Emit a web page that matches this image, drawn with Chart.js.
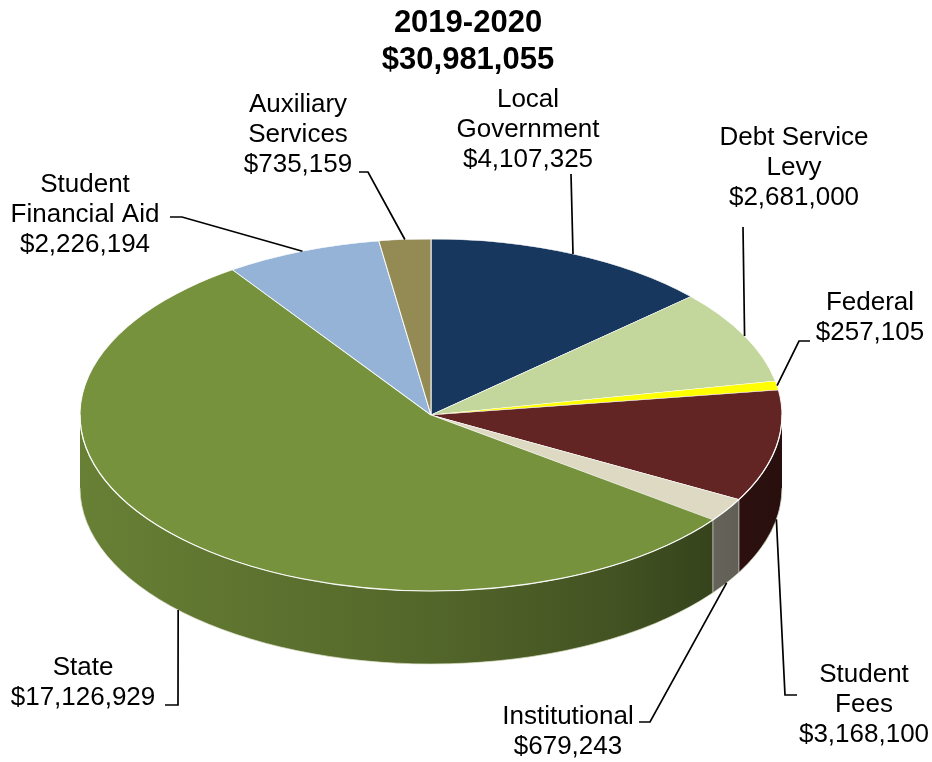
<!DOCTYPE html>
<html>
<head>
<meta charset="utf-8">
<title>Revenue 2019-2020</title>
<script src="https://cdn.jsdelivr.net/npm/chart.js@4.4.1/dist/chart.umd.min.js"></script>
<style>
  body { margin: 0; background: #ffffff; }
  #revenuePie { display: block; }
</style>
</head>
<body>
<canvas id="revenuePie" width="932" height="762"></canvas>
<script>
const yearLabel = '2019-2020'
const categories = ['Local Government', 'Debt Service Levy', 'Federal', 'Student Fees', 'Institutional', 'State', 'Student Financial Aid', 'Auxiliary Services']
const amounts = [4107325, 2681000, 257105, 3168100, 679243, 17126929, 2226194, 735159]
const labelLines = [['Local', 'Government'], ['Debt Service', 'Levy'], ['Federal'], ['Student', 'Fees'], ['Institutional'], ['State'], ['Student', 'Financial Aid'], ['Auxiliary', 'Services']]
const sliceColors = ['#17375E', '#C3D69B', '#FFFF00', '#632523', '#DDD9C3', '#76923C', '#95B3D7', '#948A54']

const money = v => '$' + v.toLocaleString('en-US')
const total = amounts.reduce((a, b) => a + b, 0)

// ellipse the flat pie gets squashed into, plus the height of the rim
const CX = 431, CY = 415, RX = 351, RY = 176, DEPTH = 73
const FONT = '"Liberation Sans", Arial, sans-serif'

// where each callout sits; leader lines run from these points to the slice
const labelSpots = [
  {x: 528, y: 107, from: [[571, 174]], edge: 'top'},
  {x: 794, y: 145, from: [[743, 227]], edge: 'top'},
  {x: 870, y: 310, from: [[810, 341], [799, 341]], edge: 'top'},
  {x: 864, y: 682, from: [[797, 695], [785, 695]], edge: 'bottom'},
  {x: 568, y: 724, from: [[639, 722], [650, 722]], edge: 'bottom'},
  {x: 83, y: 675, from: [[165, 705], [178, 705]], edge: 'bottom'},
  {x: 85, y: 192, from: [[170, 217], [182, 217]], edge: 'top'},
  {x: 298, y: 112, from: [[359, 172], [368, 172]], edge: 'top'}
]

const shade = (hex, f) => {
  const n = parseInt(hex.slice(1), 16)
  const r = Math.round(((n >> 16) & 255) * f)
  const g = Math.round(((n >> 8) & 255) * f)
  const b = Math.round((n & 255) * f)
  return `rgb(${r},${g},${b})`
}

// lighting on the rim: brighter on the left, dark towards the right
const sideStops = [[0, 0.88], [0.5, 0.7], [0.77, 0.56], [0.9, 0.46], [1, 0.4]]

const drawSide = (ctx, arc, color) => {
  const s = Math.max(arc.startAngle, 0)
  const e = Math.min(arc.endAngle, Math.PI)
  if (e <= s) return
  const grad = ctx.createLinearGradient(CX - RX, 0, CX + RX, 0)
  sideStops.forEach(([p, f]) => grad.addColorStop(p, shade(color, f)))
  ctx.beginPath()
  ctx.ellipse(CX, CY, RX, RY, 0, s, e, false)
  ctx.ellipse(CX, CY + DEPTH, RX, RY, 0, e, s, true)
  ctx.closePath()
  ctx.fillStyle = grad
  ctx.fill()
  // seam between neighbouring slices on the rim
  if (s === arc.startAngle && s > 0) {
    const x = CX + RX * Math.cos(s), y = CY + RY * Math.sin(s)
    ctx.beginPath()
    ctx.moveTo(x, y)
    ctx.lineTo(x, y + DEPTH)
    ctx.strokeStyle = 'rgba(255,255,255,0.55)'
    ctx.lineWidth = 1
    ctx.stroke()
  }
}

const pie3d = {
  id: 'pie3d',
  beforeDatasetsDraw(chart) {
    const ctx = chart.ctx
    const arcs = chart.getDatasetMeta(0).data
    const a0 = arcs[0]
    ctx.save()
    arcs.forEach((arc, i) => drawSide(ctx, arc, sliceColors[i]))
    // faint edge along the bottom of the rim
    ctx.beginPath()
    ctx.ellipse(CX, CY + DEPTH, RX, RY, 0, 0, Math.PI)
    ctx.strokeStyle = 'rgba(220,225,200,0.7)'
    ctx.lineWidth = 1
    ctx.stroke()
    // the library draws a circle; squash it into the tilted top face
    ctx.translate(CX, CY)
    ctx.scale(RX / a0.outerRadius, RY / a0.outerRadius)
    ctx.translate(-a0.x, -a0.y)
  },
  afterDatasetsDraw(chart) {
    const ctx = chart.ctx
    ctx.restore()
    const arcs = chart.getDatasetMeta(0).data

    ctx.save()
    // bevel highlight on the front edge of the top face
    ctx.beginPath()
    ctx.ellipse(CX, CY, RX, RY, 0, 0, Math.PI)
    ctx.strokeStyle = 'rgba(255,255,255,0.85)'
    ctx.lineWidth = 1.2
    ctx.stroke()

    ctx.font = `26px ${FONT}`
    ctx.textAlign = 'center'
    ctx.textBaseline = 'alphabetic'
    ctx.fillStyle = '#000000'
    ctx.strokeStyle = '#000000'
    ctx.lineWidth = 1.7
    arcs.forEach((arc, i) => {
      const spot = labelSpots[i]
      const lines = labelLines[i].concat(money(amounts[i]))
      lines.forEach((t, k) => ctx.fillText(t, spot.x, spot.y + k * 30))
      const mid = (arc.startAngle + arc.endAngle) / 2
      const ex = CX + RX * Math.cos(mid)
      const ey = CY + RY * Math.sin(mid) + (spot.edge === 'bottom' ? DEPTH : 0)
      ctx.beginPath()
      spot.from.forEach(([x, y], k) => k ? ctx.lineTo(x, y) : ctx.moveTo(x, y))
      ctx.lineTo(ex, ey)
      ctx.stroke()
    })
    ctx.restore()
  }
}

new Chart(document.getElementById('revenuePie'), {
  type: 'pie',
  data: {
    labels: categories,
    datasets: [{
      data: amounts,
      backgroundColor: sliceColors,
      borderColor: 'rgba(255,255,255,0.9)',
      borderWidth: 1,
      clip: false
    }]
  },
  options: {
    responsive: false,
    animation: false,
    events: [],
    layout: { padding: { left: 4, top: 0, right: 0, bottom: 0 } },
    plugins: {
      legend: { display: false },
      tooltip: { enabled: false },
      title: {
        display: true,
        text: [yearLabel, money(total)],
        color: '#000000',
        font: { family: FONT, size: 31, weight: 'bold', lineHeight: 1.2 },
        padding: { top: 5, bottom: 10 }
      }
    }
  },
  plugins: [pie3d]
})
</script>
</body>
</html>
